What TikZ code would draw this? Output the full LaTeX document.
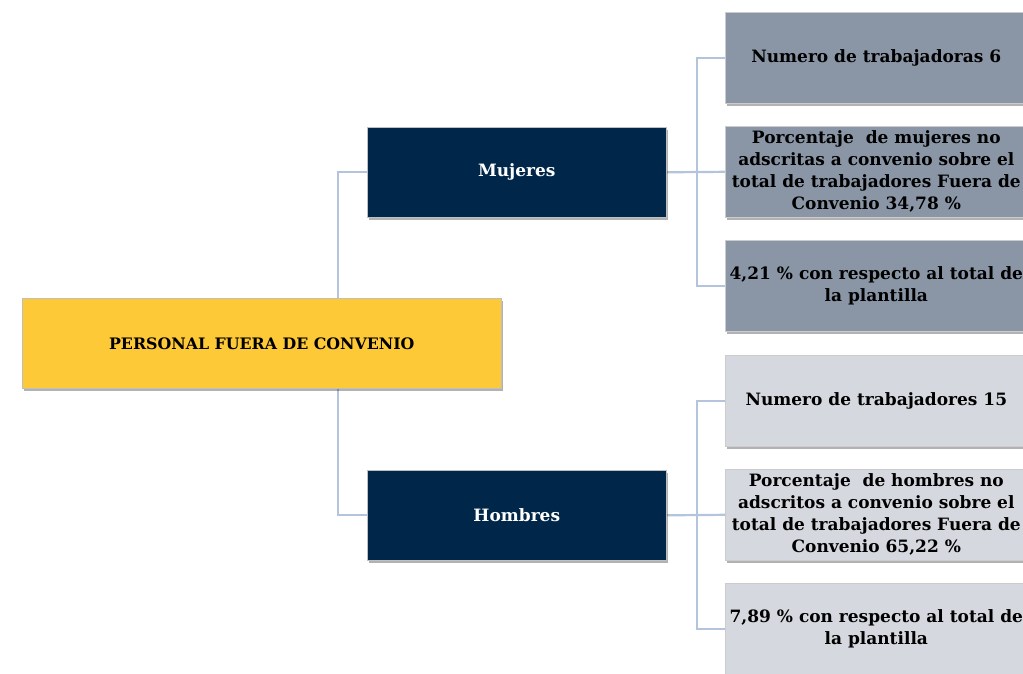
\documentclass[tikz,border=0pt]{standalone}
\usepackage{fontspec}
\setmainfont{DejaVu Serif}
\usetikzlibrary{shadows,backgrounds}
\definecolor{rootyellow}{RGB}{253,201,55}
\definecolor{navy}{RGB}{0,39,74}
\definecolor{darkgray}{RGB}{138,150,166}
\definecolor{lightgray}{RGB}{213,216,222}
\definecolor{connblue}{RGB}{180,196,220}
\tikzset{
  box/.style={anchor=north west, inner sep=0pt, align=center,
    font=\fontsize{17}{22}\selectfont\bfseries,
    drop shadow={shadow xshift=2pt, shadow yshift=-3pt, opacity=0.3, fill=black}},
  rootbox/.style={box, fill=rootyellow, draw=black!25, line width=0.6pt,
    minimum width=479pt, minimum height=90pt, text=black,
    font=\fontsize{15.8}{22}\selectfont\bfseries},
  midbox/.style={box, fill=navy, draw=black!25, line width=0.6pt,
    minimum width=299pt, minimum height=90pt, text=white},
  darkleaf/.style={box, fill=darkgray, draw=black!20, line width=0.6pt,
    minimum width=302pt, minimum height=91pt, text=black},
  lightleaf/.style={box, fill=lightgray, draw=black!20, line width=0.6pt,
    minimum width=302pt, minimum height=91pt, text=black},
  conn/.style={draw=connblue, line width=2.2pt}
}
\begin{document}
\begin{tikzpicture}[x=1pt,y=-1pt]
\useasboundingbox (0,0) rectangle (1023,674);
\clip (0,0) rectangle (1023,674);
\node[rootbox] (root) at (22,298) {PERSONAL FUERA DE CONVENIO};
\node[midbox] (muj) at (367,127) {Mujeres};
\node[midbox] (hom) at (367,470) {Hombres};
\node[darkleaf] (m1) at (725,12) {Numero de trabajadoras 6};
\node[darkleaf] (m2) at (725,126) {Porcentaje\ \ de mujeres no\\adscritas a convenio sobre el\\total de trabajadores Fuera de\\Convenio 34,78 \%};
\node[darkleaf] (m3) at (725,240) {4,21 \% con respecto al total de\\la plantilla};
\node[lightleaf] (h1) at (725,355) {Numero de trabajadores 15};
\node[lightleaf] (h2) at (725,469) {Porcentaje\ \ de hombres no\\adscritos a convenio sobre el\\total de trabajadores Fuera de\\Convenio 65,22 \%};
\node[lightleaf] (h3) at (725,583) {7,89 \% con respecto al total de\\la plantilla};
\coordinate (rj) at (338,343);
\coordinate (mj) at (697,172);
\coordinate (hj) at (697,515);
\begin{pgfonlayer}{background}
\draw[conn] (muj.west) -- (muj.west -| rj) |- (hom.west);
\draw[conn] (muj.east) -- (m2.west);
\draw[conn] (m1.west) -| (mj) |- (m3.west);
\draw[conn] (hom.east) -- (h2.west);
\draw[conn] (h1.west) -| (hj) |- (h3.west);
\end{pgfonlayer}
\end{tikzpicture}
\end{document}
